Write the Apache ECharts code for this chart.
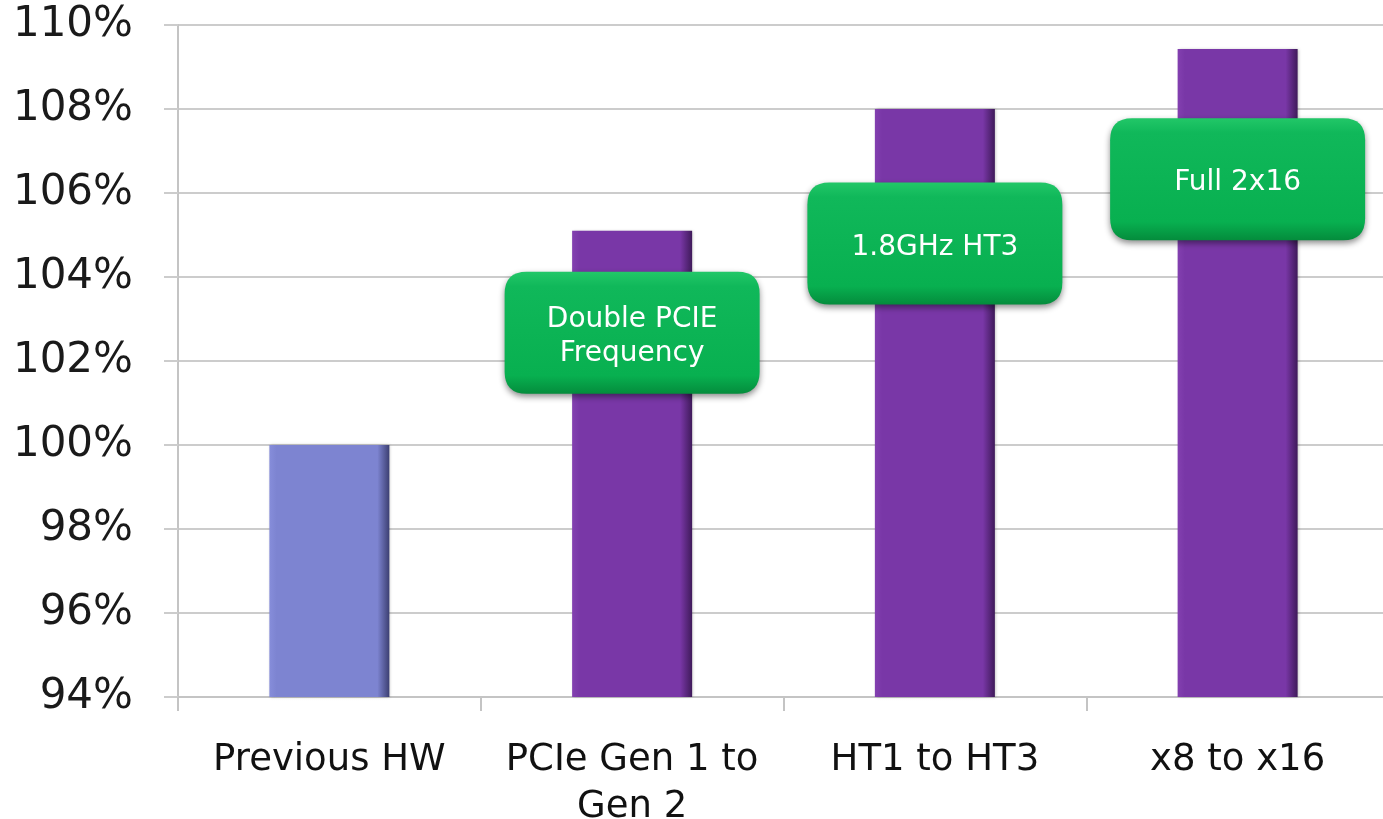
<!DOCTYPE html>
<html>
<head>
<meta charset="utf-8">
<script src="https://cdn.jsdelivr.net/npm/echarts@6/dist/echarts.min.js"></script>
<style>
  html, body { margin: 0; padding: 0; background: #fff; }
  #grafica { width: 1383px; height: 819px; }
</style>
</head>
<body>
<div id="grafica"></div>
<script>
let categorias = ['Previous HW', 'PCIe Gen 1 to\nGen 2', 'HT1 to HT3', 'x8 to x16'];
let valores = [100, 105.1, 108.0, 109.43];
let notasTexto = ['Double PCIE\nFrequency', '1.8GHz HT3', 'Full 2x16'];
let notasCategoria = ['PCIe Gen 1 to\nGen 2', 'HT1 to HT3', 'x8 to x16'];
let notasValor = [102.67, 104.8, 106.33];

let fuente = 'DejaVu Sans, Verdana, sans-serif';

function gradBarra(base, claro, oscuro) {
  return new echarts.graphic.LinearGradient(0, 0, 1, 0, [
    { offset: 0, color: claro },
    { offset: 0.06, color: base },
    { offset: 0.9, color: base },
    { offset: 1, color: oscuro }
  ]);
}

let colorAzul = gradBarra('#7d84d1', '#868dda', '#3c3f72');
let colorMorado = gradBarra('#7937a7', '#8340b0', '#3f1a5a');

let barras = valores.map(function (v, i) {
  return {
    value: v,
    itemStyle: { color: i === 0 ? colorAzul : colorMorado }
  };
});

let cajaVerde = new echarts.graphic.LinearGradient(0, 0, 0, 1, [
  { offset: 0, color: '#22c768' },
  { offset: 0.12, color: '#10b85a' },
  { offset: 0.85, color: '#08b050' },
  { offset: 1, color: '#048c3c' }
]);

let notas = notasTexto.map(function (t, i) {
  return { name: t, value: [notasCategoria[i], notasValor[i]] };
});

let caja = 'path://M22,0 H233 Q255,0 255,22 V100 Q255,122 233,122 H22 Q0,122 0,100 V22 Q0,0 22,0 Z';

let chartDom = document.getElementById('grafica');
let myChart = echarts.init(chartDom, null, { renderer: 'canvas' });

let option = {
  backgroundColor: '#ffffff',
  animation: false,
  grid: { left: 178, top: 25, width: 1211, height: 672, outerBoundsMode: 'none', containLabel: false },
  xAxis: {
    type: 'category',
    data: categorias,
    axisLine: { show: true, lineStyle: { color: '#c4c4c4', width: 2 } },
    axisTick: { show: true, length: 14, lineStyle: { color: '#c4c4c4', width: 2 } },
    axisLabel: {
      color: '#111',
      fontFamily: fuente,
      fontSize: 37,
      lineHeight: 47,
      margin: 40,
      interval: 0
    }
  },
  yAxis: {
    type: 'value',
    min: 94,
    max: 110,
    interval: 2,
    axisLine: { show: true, lineStyle: { color: '#c4c4c4', width: 2 } },
    axisTick: { show: true, length: 14, lineStyle: { color: '#cccccc', width: 2 } },
    splitLine: { show: true, lineStyle: { color: '#cccccc', width: 2 } },
    axisLabel: {
      formatter: '{value}%',
      color: '#1a1a1a',
      fontFamily: fuente,
      fontSize: 42,
      margin: 45
    }
  },
  series: [
    {
      type: 'bar',
      data: barras,
      barWidth: 120,
      itemStyle: {
        shadowColor: 'rgba(0,0,0,0.25)',
        shadowBlur: 3,
        shadowOffsetX: 1
      }
    },
    {
      type: 'scatter',
      data: notas,
      symbol: caja,
      symbolSize: [255, 122],
      symbolKeepAspect: false,
      z: 5,
      itemStyle: {
        color: cajaVerde,
        opacity: 1,
        shadowColor: 'rgba(0,0,0,0.45)',
        shadowBlur: 6,
        shadowOffsetY: 3
      },
      label: {
        show: true,
        position: 'inside',
        formatter: '{b}',
        color: '#ffffff',
        fontFamily: fuente,
        fontSize: 28,
        lineHeight: 34,
        offset: [0, 4]
      }
    }
  ]
};

myChart.setOption(option);
</script>
</body>
</html>
